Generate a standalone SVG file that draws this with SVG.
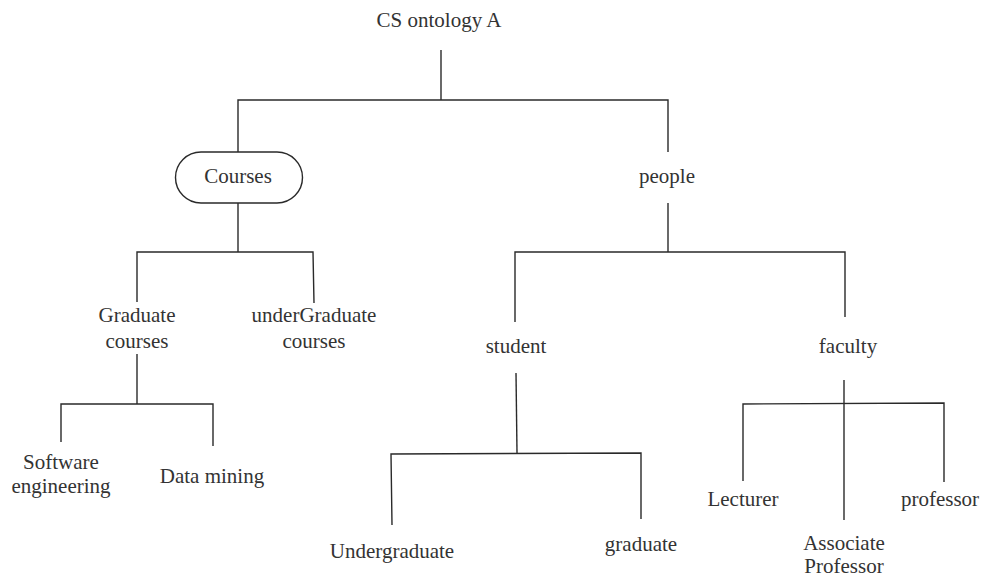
<svg xmlns="http://www.w3.org/2000/svg" width="985" height="580" viewBox="0 0 985 580">
<style>
.t text{font-size:21px;fill:#333;text-anchor:middle}
.c line,.c polyline{stroke:#2a2a2a;stroke-width:1.4;fill:none}
.box{fill:#fff;stroke:#2a2a2a;stroke-width:1.4}
</style>
<rect width="985" height="580" fill="#fff"/>
<g class="c" id="connectors">
<line x1="441" y1="50" x2="441" y2="100"/>
<polyline points="238,152 238,100 668,100 668,152"/>
<line x1="238" y1="203" x2="238" y2="252"/>
<polyline points="137,302 137,252 313,252 314,303"/>
<line x1="668" y1="203" x2="668" y2="252"/>
<polyline points="515,322 515,252 845,252 845,317"/>
<line x1="137" y1="354" x2="137" y2="404"/>
<polyline points="61,442 61,404 213,404 213,446"/>
<line x1="516" y1="373" x2="517" y2="453"/>
<polyline points="392,525 391,454 641,453 641,519"/>
<line x1="844" y1="380" x2="844" y2="520"/>
<polyline points="743,481 743,404 944,403 944,482"/>
</g>
<g class="t" font-family="Liberation Serif, DejaVu Serif, serif">
<g id="root"><text x="439" y="27">CS ontology A</text></g>
<g id="courses"><rect class="box" x="175.5" y="152" width="127" height="51" rx="25.5"/><text x="238" y="183">Courses</text></g>
<g id="people"><text x="667" y="183">people</text></g>
<g id="graduate-courses"><text x="137" y="322">Graduate</text><text x="137" y="348">courses</text></g>
<g id="undergraduate-courses"><text x="314" y="322">underGraduate</text><text x="314" y="348">courses</text></g>
<g id="student"><text x="516" y="353">student</text></g>
<g id="faculty"><text x="848" y="353">faculty</text></g>
<g id="software-engineering"><text x="61" y="469">Software</text><text x="61" y="493">engineering</text></g>
<g id="data-mining"><text x="212" y="483">Data mining</text></g>
<g id="undergraduate"><text x="392" y="558">Undergraduate</text></g>
<g id="graduate"><text x="641" y="551">graduate</text></g>
<g id="lecturer"><text x="743" y="506">Lecturer</text></g>
<g id="associate-professor"><text x="844" y="550">Associate</text><text x="844" y="573">Professor</text></g>
<g id="professor"><text x="940" y="506">professor</text></g>
</g>
</svg>
